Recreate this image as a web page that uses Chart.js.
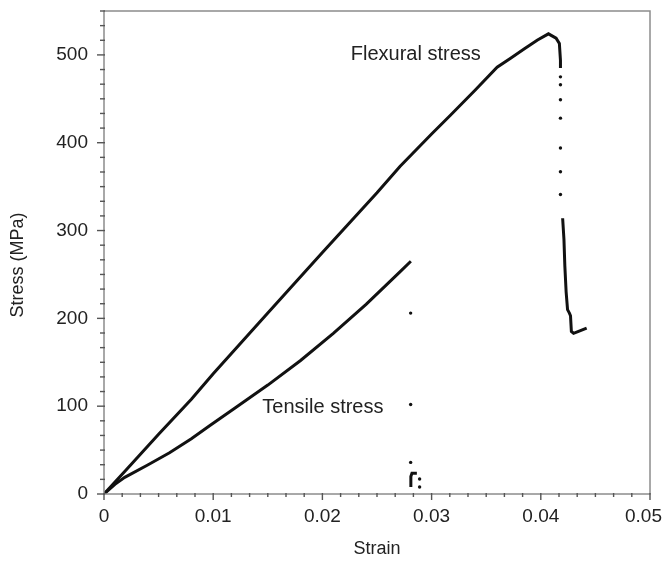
<!DOCTYPE html>
<html><head><meta charset="utf-8">
<script src="https://cdn.jsdelivr.net/npm/chart.js@4.4.1/dist/chart.umd.min.js"></script>
<style>html,body{margin:0;padding:0;background:#fff}#wrap{width:663px;height:562px}</style>
</head><body><div id="wrap"><canvas id="c" width="663" height="562"></canvas></div>
<script>
// ---- data ----
const flexStrain = [0, 0.002, 0.005, 0.008, 0.010, 0.015, 0.020, 0.025, 0.0271, 0.030, 0.0317, 0.034, 0.036, 0.0372, 0.0385, 0.0397, 0.0407, 0.0414, 0.0417, 0.0418, 0.0418];
const flexStress = [0, 27, 68, 108, 137, 206, 275, 343, 373, 410, 431, 460, 486, 496, 507, 517, 524, 519, 513, 494, 485];
const flexDropStrain = [0.0418, 0.0418, 0.0418, 0.0418, 0.0418, 0.0418, 0.0418];
const flexDropStress = [475, 466, 449, 428, 394, 367, 341];
const flexTailStrain = [0.0420, 0.04212, 0.0422, 0.04232, 0.04245, 0.04262, 0.04272, 0.0428, 0.0430, 0.0434, 0.0438, 0.0442];
const flexTailStress = [314, 290, 260, 230, 210, 206, 203, 185, 183, 185, 187, 189];
const tensStrain = [0, 0.001, 0.0019, 0.004, 0.006, 0.008, 0.0097, 0.012, 0.015, 0.018, 0.021, 0.024, 0.0271, 0.0281];
const tensStress = [0, 11, 19, 33, 47, 63, 78, 98, 124, 152, 183, 216, 253, 265];
const tensDropStrain = [0.02808, 0.02808, 0.02808, 0.0289, 0.0289];
const tensDropStress = [206, 102, 36, 17, 8];
const tensStubStrain = [0.0281, 0.0281, 0.0282, 0.02865];
const tensStubStress = [8, 20, 23.6, 23.6];
const xTickValues = [0, 0.01, 0.02, 0.03, 0.04, 0.05];
const xTickLabels = ['0', '0.01', '0.02', '0.03', '0.04', '0.05'];
const yTickValues = [0, 100, 200, 300, 400, 500];
const xTitle = 'Strain';
const yTitle = 'Stress (MPa)';
const annotationTexts = ['Flexural stress', 'Tensile stress'];
const annotationStrain = [0.0226, 0.0145];
const annotationStress = [500, 98];

const zip = (xs, ys) => xs.map((v, i) => ({x: v, y: ys[i]}));
const INK = '#111';
const TEXT = '#222';
const AXIS = '#8c8c8c';
const FONT = 'Liberation Sans, Arial, sans-serif';

const framePlugin = {
  id: 'frameTicks',
  afterDraw(chart) {
    const {ctx, chartArea: a, scales: {x, y}, width, height} = chart;
    ctx.save();
    ctx.strokeStyle = AXIS;
    ctx.lineWidth = 1.5;
    ctx.strokeRect(a.left, a.top, a.right - a.left, a.bottom - a.top);
    ctx.strokeStyle = '#555';
    ctx.lineWidth = 1.4;
    const xStep = 0.01 / 6;
    for (let i = 0; i <= 30; i++) {
      const px = x.getPixelForValue(i * xStep);
      const major = i % 6 === 0;
      ctx.beginPath(); ctx.moveTo(px, a.bottom - 1); ctx.lineTo(px, a.bottom + (major ? 6 : 3)); ctx.stroke();
    }
    const yStep = 100 / 6;
    for (let i = 0; i <= 33; i++) {
      const py = y.getPixelForValue(i * yStep);
      const major = i % 6 === 0;
      ctx.beginPath(); ctx.moveTo(a.left + 1, py); ctx.lineTo(a.left - (major ? 7 : 4), py); ctx.stroke();
    }
    ctx.fillStyle = TEXT;
    // x tick labels (last one kept inside the canvas)
    ctx.font = '19px ' + FONT;
    ctx.textBaseline = 'top';
    ctx.textAlign = 'center';
    xTickValues.forEach((v, i) => {
      const t = xTickLabels[i];
      const w = ctx.measureText(t).width;
      let cx = x.getPixelForValue(v);
      cx = Math.min(cx, width - 1 - w / 2);
      ctx.fillText(t, cx, a.bottom + 13);
    });
    // axis titles
    ctx.font = '18px ' + FONT;
    ctx.textBaseline = 'middle';
    ctx.fillText(xTitle, (a.left + a.right) / 2, 549);
    ctx.save();
    ctx.translate(18, 265);
    ctx.rotate(-Math.PI / 2);
    ctx.fillText(yTitle, 0, 0);
    ctx.restore();
    // annotations
    ctx.font = '20px ' + FONT;
    ctx.textAlign = 'left';
    ctx.textBaseline = 'middle';
    annotationTexts.forEach((t, i) => {
      ctx.fillText(t, x.getPixelForValue(annotationStrain[i]), y.getPixelForValue(annotationStress[i]));
    });
    ctx.restore();
  }
};

const lineDs = (data, w) => ({data, showLine: true, borderColor: INK, borderWidth: w || 3, pointRadius: 0, tension: 0, fill: false});
const dotDs = (data) => ({data, showLine: false, pointRadius: 1.7, pointBackgroundColor: INK, pointBorderWidth: 0});

new Chart(document.getElementById('c'), {
  type: 'scatter',
  data: {
    datasets: [
      lineDs(zip(flexStrain, flexStress)),
      dotDs(zip(flexDropStrain, flexDropStress)),
      lineDs(zip(flexTailStrain, flexTailStress)),
      lineDs(zip(tensStrain, tensStress)),
      dotDs(zip(tensDropStrain, tensDropStress)),
      lineDs(zip(tensStubStrain, tensStubStress), 3)
    ]
  },
  options: {
    responsive: false,
    animation: false,
    layout: {padding: {left: 0, right: 13, top: 11, bottom: 0}},
    plugins: {legend: {display: false}, tooltip: {enabled: false}},
    scales: {
      x: {
        type: 'linear', min: 0, max: 0.05,
        border: {display: false},
        grid: {display: false},
        afterBuildTicks: (s) => { s.ticks = xTickValues.map(v => ({value: v})); },
        ticks: {display: false},
        title: {display: false},
        afterFit: (s) => { s.height = 68; s.paddingLeft = 0; s.paddingRight = 0; }
      },
      y: {
        type: 'linear', min: 0, max: 550,
        border: {display: false},
        grid: {display: true, drawOnChartArea: false, drawTicks: false},
        afterBuildTicks: (s) => { s.ticks = yTickValues.map(v => ({value: v})); },
        ticks: {color: TEXT, font: {family: FONT, size: 19}, padding: 16,
          callback: (v) => String(v)},
        title: {display: false},
        afterFit: (s) => { s.width = 104; s.paddingTop = 0; s.paddingBottom = 0; }
      }
    }
  },
  plugins: [framePlugin]
});
</script>
</body></html>
